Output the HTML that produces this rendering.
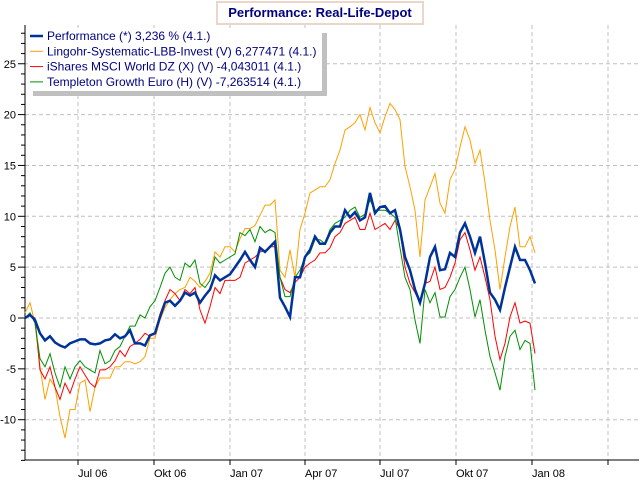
<!DOCTYPE html>
<html><head><meta charset="utf-8"><style>
body{margin:0;background:#fff;width:640px;height:480px;overflow:hidden;font-family:"Liberation Sans",sans-serif}
#title{position:absolute;left:216px;top:1px;width:204px;height:20px;border:2px solid #ead6ca;background:#fff;color:#000080;font-weight:bold;font-size:13px;line-height:20px;text-align:center}
</style></head><body>
<svg id="chart" width="640" height="480" style="position:absolute;left:0;top:0" font-family="Liberation Sans, sans-serif"></svg>
<div id="title">Performance: Real-Life-Depot</div>
<script>
const yTicks=[25,20,15,10,5,0,-5,-10];
const xTickLabels=["Jul 06","Okt 06","Jan 07","Apr 07","Jul 07","Okt 07","Jan 08",""];
const xTickIdx=[10.6,25.8,41,56,71,86.2,101.4,116.6];
const perf=[0,0.3,-0.2,-1.5,-2.2,-1.8,-2.4,-2.7,-2.9,-2.5,-2.3,-2.1,-2.1,-2.5,-2.6,-2.5,-2.2,-2.1,-1.6,-2.0,-1.8,-1.2,-2.5,-2.5,-2.7,-1.7,-1.5,0.1,1.5,1.7,1.2,1.7,2.5,2.2,2.5,1.5,2.2,2.8,4.2,3.7,4.0,4.3,5.0,5.7,6.5,5.7,5.0,6.9,6.5,7.0,7.5,2.0,1.1,0.1,4.0,4.0,6.0,6.7,8.0,7.3,7.3,8.4,9.0,9.0,10.6,9.9,10.4,9.6,9.9,12.3,10.3,10.9,11.0,10.3,10.6,8.7,6.0,4.7,2.8,1.5,3.4,6.0,7.0,4.7,4.8,6.4,6.0,8.4,9.3,8.0,6.4,8.0,5.4,2.5,1.8,0.8,3.0,5.0,7.0,5.7,5.7,4.7,3.4];
const lingohr=[0.5,1.5,-0.5,-4.8,-8,-6,-6.8,-9.7,-11.8,-9,-9,-6.4,-6.1,-9.2,-6.8,-5.9,-5.9,-5.9,-4.8,-4.8,-4.3,-4.3,-4.5,-4.3,-3.8,-2,-2,-0.2,1,1.8,2.4,2.8,3,4,3.6,3,3.6,4.4,6.5,6,7,7,6.5,7.8,8.8,8.8,9.1,10.1,11.1,11.1,11.6,4.7,4.0,6.7,4.0,8.7,10.3,12.3,12.6,12.9,12.9,13.6,15.2,16.5,18.5,18.8,19.2,20,18.5,20.7,19.2,18.2,19.8,21.1,20.5,19.5,14.9,12.9,10.6,6,11.6,12.9,14.2,11.3,10.3,13.6,14.6,16.8,18.8,17.5,15.2,16.5,13.3,9.6,6.7,2.8,6,9,10.9,7,7,8,6.4];
const ishares=[0,0.3,0,-5.1,-6,-4.8,-6.8,-8,-6.4,-7.4,-6,-4.8,-5.6,-6.4,-6.8,-5.1,-5.1,-4.8,-4.2,-3.2,-3.8,-2.8,-2.5,-2.1,-1.5,-1.8,-1.5,0.4,1.7,2.8,2.4,1.7,2.8,2.4,3,0.8,-0.5,1.1,3,2.4,3.7,3.7,3.7,4,5.4,5.7,6,6.5,6.6,7,7,4.0,2.8,2.5,3.5,4,5,5.4,5.7,6.4,6.4,6.9,8,8.4,9.3,9.6,9.9,8.7,8.7,10.3,8.7,9,9.3,8.7,9.6,8.7,5,3.4,2.5,1.5,3.4,3.6,5,2.8,3,4,5.4,7.7,8.4,6.7,4.7,6,4,1.8,-1.8,-4.1,-2.5,0.1,1.5,-0.5,-0.3,-0.5,-3.5];
const templeton=[0,0.5,-0.5,-4,-4.8,-3.5,-5.4,-6.8,-4.8,-6,-4.8,-4.2,-4.8,-5.1,-5.4,-3.2,-4.5,-4.2,-3.2,-2.8,-1.8,-0.8,-0.8,0.3,0,1.1,1.7,3,4.4,5,4,3.7,5.4,5,5.7,3.4,3,3.7,6,5.4,5.7,6,6.3,8.4,8.1,8.7,7.5,9,8.4,8.7,8.4,4,2.1,2.1,4,4.7,6,6.4,7.7,7.7,7.3,8.7,9.3,9.6,9.9,10.6,10.9,9.9,10.2,11.6,10.6,10.6,10.6,10.3,9.9,6.9,4,2.8,-0.2,-2.5,2.8,1.5,2.5,0.1,0.1,2.1,2.8,4,5,2.8,0.1,1.8,-1.2,-3.8,-5.4,-7.1,-3.8,-1.8,-1.2,-3.1,-2.2,-2.5,-7.1];
const legendLabels=["Performance (*) 3,236 % (4.1.)","Lingohr-Systematic-LBB-Invest (V) 6,277471 (4.1.)","iShares MSCI World DZ (X) (V) -4,043011 (4.1.)","Templeton Growth Euro (H) (V) -7,263514 (4.1.)"];

const svg=document.getElementById('chart');const NS='http://www.w3.org/2000/svg';
const L=25,R=639,T=25,B=460;
function ys(v){return 318-v*10.17;}
function xs(i){return 25+i*5;}
function mk(tag,attrs,parent){const e=document.createElementNS(NS,tag);for(const k in attrs)e.setAttribute(k,attrs[k]);(parent||svg).appendChild(e);return e;}
// grid
for(const v of yTicks){const g=mk('line',{x1:L,x2:R,y1:ys(v),y2:ys(v),stroke:'#c0c0c0','stroke-dasharray':'4,3'});

}
xTickIdx.forEach(i=>{const g=mk('line',{x1:xs(i),x2:xs(i),y1:T,y2:B,stroke:'#c0c0c0','stroke-dasharray':'4,3'});

});
// minor ticks
for(let v=-14;v<=28;v++){const mj=v%5===0;const t=mk('line',{x1:mj?18:21,x2:L,y1:ys(v),y2:ys(v),stroke:'#000'});

}
for(const v of yTicks){const t=mk('text',{x:16,y:ys(v)+4,'text-anchor':'end','font-size':'11',fill:'#000'});t.textContent=v;

}
xTickIdx.forEach((i,k)=>{const t=mk('line',{x1:xs(i),x2:xs(i),y1:B,y2:B+5,stroke:'#000'});


const tx=mk('text',{x:xs(i),y:477,'font-size':'11',fill:'#000'});tx.textContent=xTickLabels[k];

});
const ax=mk('path',{d:`M${L},${T}V${B}H${R}`,stroke:'#000',fill:'none'});


function series(arr,color,w,name){const d=arr.map((v,i)=>(i?'L':'M')+xs(i)+','+ys(v).toFixed(1)).join('');const p=mk('path',{d:d,stroke:color,'stroke-width':w,fill:'none','stroke-linejoin':'miter'});

}
series(lingohr,'#ffa000',1,'lingohr-line');
series(ishares,'#ff0000',1,'ishares-line');
series(templeton,'#009000',1,'templeton-line');
series(perf,'#003399',2.5,'performance-line');
// legend
const sh=mk('rect',{x:33,y:33,width:294,height:63,fill:'#c0c0c0'});


const lg=mk('rect',{x:28,y:28,width:294,height:63,fill:'#fff'});


const lc=['#003399','#ffa000','#ff0000','#009000'];
legendLabels.forEach((s,k)=>{const y=36+k*15.3;const l=mk('line',{x1:30,x2:43,y1:y,y2:y,stroke:lc[k],'stroke-width':k?1:2.5});


const t=mk('text',{x:47,y:y+4,'font-size':'12',fill:'#000080'});t.textContent=s;

});
</script>
</body></html>
